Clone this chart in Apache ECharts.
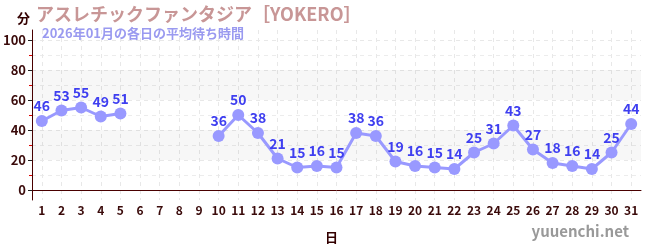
<!DOCTYPE html>
<html><head><meta charset="utf-8">
<script src="https://cdn.jsdelivr.net/npm/echarts@6/dist/echarts.min.js"></script>
<style>html,body{margin:0;padding:0;background:#fff}#c{width:650px;height:250px}</style>
</head><body><div id="c"></div>
<script>
const days = ['1','2','3','4','5','6','7','8','9','10','11','12','13','14','15','16','17','18','19','20','21','22','23','24','25','26','27','28','29','30','31'];
const waits = [46,53,55,49,51,null,null,null,null,36,50,38,21,15,16,15,38,36,19,16,15,14,25,31,43,27,18,16,14,25,44];
const majorTicks = [0,20,40,60,80,100];
const minorTicks = [10,30,50,70,90];
const bands = [[20,40],[60,80]];
const titleText = 'アスレチックファンタジア［YOKERO］';
const subText = '2026年01月の各日の平均待ち時間';

const chart = echarts.init(document.getElementById('c'), null, {renderer:'canvas'});
const axisColor = '#4a0000';
const labelColor = '#3a0a0a';
const ff = '"Noto Sans CJK JP","Noto Sans",sans-serif';
chart.setOption({
  animation:false,
  textStyle:{fontFamily:ff},
  title:[
    {text:titleText,left:31,top:0,textStyle:{fontSize:18,fontWeight:'bold',color:'#c89696',fontFamily:ff}},
    {text:subText,left:37,top:22,textStyle:{fontSize:13,fontWeight:'bold',color:'#9a9af0',fontFamily:ff}},
    {text:'分',left:12,top:7,textStyle:{fontSize:13,fontWeight:'bold',color:'#330000',fontFamily:ff}},
    {text:'yuuenchi.net',right:16,bottom:6,textStyle:{fontSize:15,fontWeight:'bold',color:'#999999',fontFamily:ff}}
  ],
  grid:{left:30,right:9,top:30,bottom:50,containLabel:false},
  xAxis:{
    type:'category',data:days,boundaryGap:true,
    name:'日',nameLocation:'middle',nameGap:31,
    nameTextStyle:{fontSize:13,fontWeight:'bold',color:'#330000',padding:[0,10,0,0]},
    axisLine:{lineStyle:{color:axisColor,width:1}},
    axisTick:{alignWithLabel:true,length:4,lineStyle:{color:'#555'}},
    axisLabel:{interval:0,fontSize:12,fontWeight:'bold',color:labelColor,margin:4},
    splitLine:{show:true,alignWithLabel:true,interval:0,lineStyle:{color:'#e8e8e8',type:[4,4]}}
  },
  yAxis:[
    {type:'value',min:-20/3,max:320/3,
     axisLine:{show:true,lineStyle:{color:axisColor}},
     axisTick:{show:true,length:4,customValues:majorTicks,lineStyle:{color:'#222'}},
     axisLabel:{customValues:majorTicks,fontSize:13,fontWeight:'bold',color:labelColor,margin:6},
     splitLine:{show:true,lineStyle:{color:'#e8e8e8',type:[4,4]}},
     splitArea:{show:false}},
    {type:'value',min:-20/3,max:320/3,position:'left',
     axisLine:{show:false},
     axisTick:{show:true,length:3,customValues:minorTicks,lineStyle:{color:'#dd0000'}},
     axisLabel:{show:false,customValues:minorTicks},
     splitLine:{show:true,lineStyle:{color:'#ececec',type:[4,4]}}}
  ],
  series:[{
    type:'line',data:waits,connectNulls:false,
    symbol:'circle',symbolSize:12,
    lineStyle:{color:'#9999ff',width:3},
    itemStyle:{color:'#9999ff'},
    label:{show:true,position:'top',distance:2,fontSize:14,fontWeight:'bold',color:'#3f3ff0'},
    markArea:{silent:true,itemStyle:{color:'rgba(0,0,0,0.03)'},
      data:bands.map(b=>[{yAxis:b[0],x:30},{yAxis:b[1],x:641}])},
    z:3
  }]
});
</script></body></html>
